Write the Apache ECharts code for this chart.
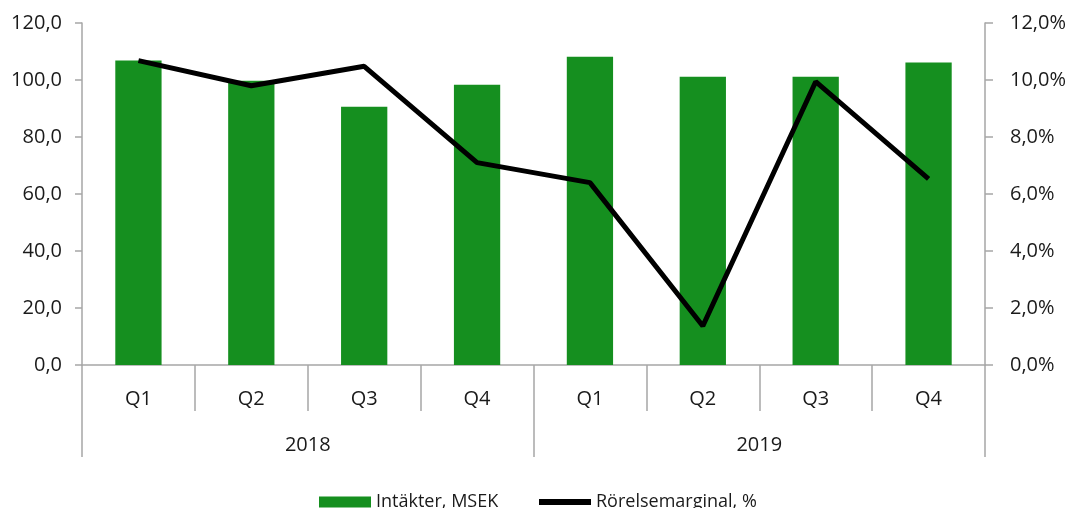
<!DOCTYPE html>
<html>
<head>
<meta charset="utf-8">
<script src="https://cdn.jsdelivr.net/npm/echarts@6/dist/echarts.min.js"></script>
<style>
html,body{margin:0;padding:0;background:#fff;}
#c{width:1070px;height:508px;}
</style>
</head>
<body>
<div id="c"></div>
<script>
const quarters = ['Q1','Q2','Q3','Q4','Q1','Q2','Q3','Q4'];
const years = ['2018','2019'];
const revenue = [106.8, 99.7, 90.6, 98.3, 108.2, 101.1, 101.1, 106.1];
const margin = [10.68, 9.8, 10.48, 7.1, 6.4, 1.37, 9.94, 6.53];
const seriesNames = ['Intäkter, MSEK', 'Rörelsemarginal, %'];

const FONT = '"Open Sans", "Noto Sans", sans-serif';
const TXT = '#1a1a1a';
const AX = '#a6a6a6';
const FS = 20;

const chart = echarts.init(document.getElementById('c'), null, {renderer:'canvas'});
chart.setOption({
  animation:false,
  backgroundColor:'#fff',
  textStyle:{fontFamily:FONT},
  grid:{left:82, right:85, top:23, bottom:143, containLabel:false},
  legend:[
    {data:[{name:seriesNames[0], icon:'rect'}], left:314, top:488, itemWidth:52, itemHeight:11, itemGap:4,
     textStyle:{fontFamily:FONT, fontSize:18, color:TXT}, selectedMode:false},
    {data:[{name:seriesNames[1], icon:'rect'}], left:534, top:488, itemWidth:52, itemHeight:6, itemGap:4,
     textStyle:{fontFamily:FONT, fontSize:18, color:TXT}, selectedMode:false}
  ],
  xAxis:[
    {type:'category', data:quarters, position:'bottom',
     axisLine:{show:true, lineStyle:{color:AX, width:1.5}},
     axisTick:{show:true, length:46, lineStyle:{color:AX, width:1.5}},
     axisLabel:{margin:24, fontSize:FS, color:TXT, fontFamily:FONT},
     splitLine:{show:false}},
    {type:'category', data:years, position:'bottom', offset:0,
     axisLine:{show:false},
     axisTick:{show:true, length:92, lineStyle:{color:AX, width:1.5}},
     axisLabel:{margin:70, fontSize:FS, color:TXT, fontFamily:FONT},
     splitLine:{show:false}}
  ],
  yAxis:[
    {type:'value', min:0, max:120, interval:20, position:'left',
     axisLine:{show:true, lineStyle:{color:AX, width:1.5}},
     axisTick:{show:true, length:7, lineStyle:{color:AX, width:1.5}},
     axisLabel:{margin:20, fontSize:FS, color:TXT, fontFamily:FONT,
       formatter:v=>v.toFixed(1).replace('.',',')},
     splitLine:{show:false}},
    {type:'value', min:0, max:12, interval:2, position:'right',
     axisLine:{show:true, lineStyle:{color:AX, width:1.5}},
     axisTick:{show:true, length:8, lineStyle:{color:AX, width:1.5}},
     axisLabel:{margin:25, fontSize:FS, color:TXT, fontFamily:FONT,
       formatter:v=>v.toFixed(1).replace('.',',')+'%'},
     splitLine:{show:false}}
  ],
  series:[
    {name:seriesNames[0], type:'bar', xAxisIndex:0, yAxisIndex:0, data:revenue,
     barWidth:'41%', itemStyle:{color:'#158f1f'}},
    {name:seriesNames[1], type:'line', xAxisIndex:0, yAxisIndex:1, data:margin,
     symbol:'none', lineStyle:{color:'#000', width:5}, itemStyle:{color:'#000'}}
  ]
});
</script>
</body>
</html>
